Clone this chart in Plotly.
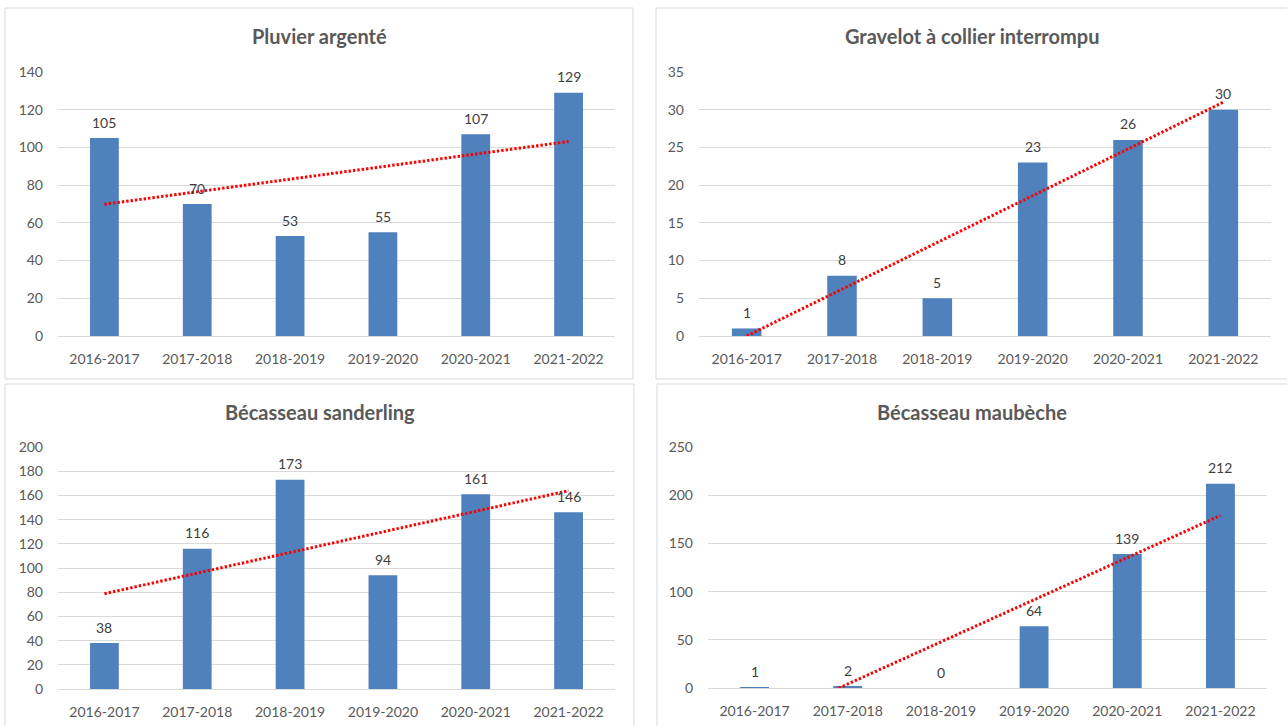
import numpy as np
import plotly.graph_objects as go

W, H = 1287, 726

seasons = ["2016-2017", "2017-2018", "2018-2019", "2019-2020", "2020-2021", "2021-2022"]

pluvier_argente = [105, 70, 53, 55, 107, 129]
gravelot_collier = [1, 8, 5, 23, 26, 30]
becasseau_sanderling = [38, 116, 173, 94, 161, 146]
becasseau_maubeche = [1, 2, 0, 64, 139, 212]

titles = ["Pluvier argenté", "Gravelot à collier interrompu",
          "Bécasseau sanderling", "Bécasseau maubèche"]
y_max = [140, 35, 200, 250]
y_step = [20, 5, 20, 50]

BAR = "#4f81bd"
GRID = "#d9d9d9"
TEXT = "#595959"
LABEL = "#404040"
FONT = "Lato"


def px(x):
    return x / W


def py(y):
    return 1 - y / H


# panel frames (pixel boxes) and plot areas: x0, x1, y_top, y_bottom
frames = [(5, 633, 8, 379), (656, 1295, 8, 379), (5, 634, 384, 740), (657, 1295, 384, 740)]
plots = [(58, 615, 72, 336), (699, 1271, 72, 336), (58, 615, 447, 689), (708, 1267, 447, 688)]
title_y = [36, 36, 412, 412]

series = [pluvier_argente, gravelot_collier, becasseau_sanderling, becasseau_maubeche]

fig = go.Figure()
layout = {}
shapes = []
annotations = []

for i, (vals, title) in enumerate(zip(series, titles)):
    k = "" if i == 0 else str(i + 1)
    xa, ya = "x" + k, "y" + k
    fig.add_trace(go.Bar(
        x=seasons, y=vals, xaxis=xa, yaxis=ya,
        marker=dict(color=BAR, line=dict(width=0)),
        showlegend=False,
    ))
    # value labels above each bar
    for s, v in zip(seasons, vals):
        annotations.append(dict(
            x=s, y=v, xref=xa, yref=ya, text=str(v), showarrow=False,
            xanchor="center", yanchor="middle", yshift=16,
            font=dict(family=FONT, size=14, color=LABEL),
        ))
    # linear trend over season index
    idx = np.arange(1, len(vals) + 1)
    slope, intercept = np.polyfit(idx, vals, 1)
    trend = slope * idx + intercept
    fig.add_trace(go.Scatter(
        x=seasons, y=trend, xaxis=xa, yaxis=ya, mode="lines",
        line=dict(color="#ff0000", width=3, dash="2.4px,2px"),
        showlegend=False, hoverinfo="skip",
    ))

    x0, x1, yt, yb = plots[i]
    layout["xaxis" + k] = dict(
        domain=[px(x0), px(x1)], anchor=ya, type="category",
        showgrid=False, showline=True, linecolor=GRID, linewidth=1,
        ticks="", ticklabelstandoff=10, automargin=False,
        tickfont=dict(family=FONT, size=14, color=TEXT),
    )
    layout["yaxis" + k] = dict(
        domain=[py(yb), py(yt)], anchor=xa,
        range=[0, y_max[i]], dtick=y_step[i], tick0=0,
        showgrid=True, gridcolor=GRID, gridwidth=1,
        zeroline=False, showline=False, ticks="", ticklabelstandoff=14,
        automargin=False,
        tickfont=dict(family=FONT, size=14, color=TEXT),
    )

    fx0, fx1, fy0, fy1 = frames[i]
    shapes.append(dict(type="rect", xref="paper", yref="paper",
                       x0=px(fx0), x1=px(fx1), y0=py(fy1), y1=py(fy0),
                       line=dict(color=GRID, width=1), fillcolor="rgba(0,0,0,0)",
                       layer="below"))
    annotations.append(dict(
        text="<b>" + title + "</b>", xref="paper", yref="paper",
        x=px((fx0 + min(fx1, W)) / 2), y=py(title_y[i]),
        xanchor="center", yanchor="middle", showarrow=False,
        font=dict(family=FONT, size=20, color=TEXT),
    ))

fig.update_layout(
    width=W, height=H,
    margin=dict(l=0, r=0, t=0, b=0, pad=0, autoexpand=False),
    paper_bgcolor="white", plot_bgcolor="white",
    bargap=0.69,
    shapes=shapes, annotations=annotations,
    **layout,
)

fig.write_html("out.html")
